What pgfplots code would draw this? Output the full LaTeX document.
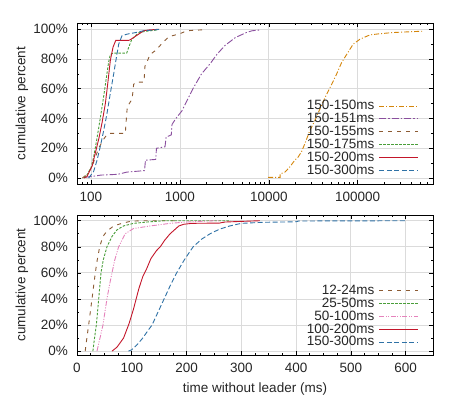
\documentclass[border=0pt]{standalone}
\usepackage{fontspec}
\setmainfont{Liberation Sans}
\usepackage{pgfplots}
\pgfplotsset{compat=1.18}
\definecolor{corange}{HTML}{D4850A}
\definecolor{cpurple}{HTML}{8A4F9E}
\definecolor{cbrown}{HTML}{8C5B33}
\definecolor{cgreen}{HTML}{4A9E3A}
\definecolor{cred}{HTML}{C3162A}
\definecolor{cblue}{HTML}{2F72A6}
\definecolor{cpink}{HTML}{E583BC}
\pgfplotsset{
  legend image code/.code={\draw[#1] (0bp,0bp) -- (39bp,0bp);},
}
\pgfplotsset{
  common/.style={
    scale only axis, width=356bp,
    axis line style={black, line width=0.8bp},
    tick align=inside,
    major tick length=4bp, minor tick length=2.2bp,
    every tick/.style={black, line width=0.6bp},
    grid=major, major grid style={black!14, line width=0.8bp},
    ytick={0,20,...,100}, yticklabels={0\%,20\%,40\%,60\%,80\%,100\%},
    minor y tick num=1,
    ylabel={cumulative percent},
    ylabel style={at={(axis description cs:-0.1545,0.5)}, anchor=center},
    label style={font=\fontsize{13.5bp}{15bp}\selectfont, text=black!85},
    tick label style={font=\fontsize{13.5bp}{15bp}\selectfont, text=black!85},
    yticklabel style={xshift=-4.5bp},
    xticklabel style={yshift=-3.6bp},
    legend style={draw=none, fill=none, inner sep=0pt, outer sep=0pt,
      anchor=south east, nodes={inner sep=1.5bp, text=black!85},
      column sep=3bp, row sep=-1.6bp, font=\fontsize{13.5bp}{13.5bp}\selectfont},
    legend cell align=right, legend plot pos=right,
    every axis plot/.append style={line width=0.9bp, no marks},
  }
}
\begin{document}
\fontsize{13.5bp}{15bp}\selectfont
\begin{tikzpicture}
\useasboundingbox (0,0) rectangle (467bp,399bp);
\begin{axis}[common, xmode=log, height=161bp,
  at={(77bp,215bp)}, anchor=south west,
  xmin=69.6, xmax=703000, ymin=-4, ymax=104.2,
  xtick={100,1000,10000,100000}, xticklabels={100,1000,10000,100000},
  minor xtick={70,80,90,200,300,400,500,600,700,800,900,2000,3000,4000,5000,6000,7000,8000,9000,20000,30000,40000,50000,60000,70000,80000,90000,200000,300000,400000,500000,600000,700000},
  legend style={at={(0.960,0.040)}},
]
\addplot[corange, dash pattern=on 5bp off 2bp on 1bp off 2bp] coordinates {
(9800,0.5) (13400,0.5) (13400,2.7) (15200,4) (17300,7.6) (19600,12) (21300,14) (23300,17.6) (25400,23) (29000,32) (33000,38.7) (37600,46.5) (42800,54) (51000,63) (58000,70) (66000,77.7) (75000,83) (89000,90) (106000,93.3) (137000,96.2) (178000,97) (252000,97.8) (540000,98.7)};
\addlegendentry{150-150ms}
\addplot[cpurple, dash pattern=on 7bp off 2bp on 1.5bp off 2bp] coordinates {
(85,0.5) (100,1) (130,2) (200,2.5) (254,4) (400,5) (410,12) (535,12.5) (545,20) (680,21) (700,27.5) (800,29) (815,36) (900,40) (1050,45) (1200,52) (1400,60) (1750,70) (2200,77) (2600,83) (3200,89) (4200,94.4) (5600,97.8) (6500,99) (8000,99.5)};
\addlegendentry{150-151ms}
\addplot[cbrown, dash pattern=on 4bp off 5bp] coordinates {
(80,0) (92,3) (103,8) (112,14) (122,20) (135,25) (150,29) (165,30) (243,30) (250,40) (256,48) (290,53) (302,63) (320,64.5) (395,64.5) (404,75) (440,80) (461,83) (540,86) (640,91) (750,95) (1000,97) (1200,99) (1900,99.7)};
\addlegendentry{150-155ms}
\addplot[cgreen, dash pattern=on 2.5bp off 1.5bp] coordinates {
(83,0) (90,2) (100,7) (107,14) (117,27) (127,40) (139,55) (151,70) (158,78) (165,83) (178,84) (252,84) (270,89) (287,93) (340,97.5) (400,98.5) (550,99.5)};
\addlegendentry{150-175ms}
\addplot[cred] coordinates {
(83,0) (90,1) (103,8) (112,17) (122,26) (133,37) (145,50) (154,63) (165,79) (177,88) (190,92.5) (265,92.5) (277,93) (302,94.5) (344,96.7) (391,99) (446,99.5) (578,100)};
\addlegendentry{150-200ms}
\addplot[cblue, dash pattern=on 5bp off 2.5bp] coordinates {
(94,0) (107,4.4) (117,12) (127,21) (139,32) (151,43) (165,57) (180,70) (193,81) (205,90) (223,95.6) (254,96.7) (320,97.8) (391,99) (507,99.5) (600,100)};
\addlegendentry{150-300ms}
\end{axis}
\begin{axis}[common, height=140bp,
  at={(77bp,44bp)}, anchor=south west,
  xmin=0, xmax=650, ymin=-3, ymax=104.4,
  xtick={0,100,...,600}, xticklabels={0,100,200,300,400,500,600},
  minor x tick num=3,
  xlabel={time without leader (ms)},
  xlabel style={at={(axis description cs:0.5,-0.243)}, anchor=center},
  legend style={at={(0.960,0.040)}},
]
\addplot[cbrown, dash pattern=on 4bp off 5bp] coordinates {
(15,0) (18,10) (21.3,20) (24.3,30) (27.4,40) (30.4,50) (33.4,60) (37,70) (41.4,80) (47.4,88) (54.7,92) (67,96) (82,98) (97,99.5) (115,100) (180,100)};
\addlegendentry{12-24ms}
\addplot[cgreen, dash pattern=on 2.5bp off 1.5bp] coordinates {
(29,0) (32,10) (35.3,20) (37.5,30) (39.6,40) (41.7,50) (43.8,60) (48,70) (54.7,80) (64,88) (73,93) (85,96) (103.5,98) (128,99) (158,100) (280,100)};
\addlegendentry{25-50ms}
\addplot[cpink, dash pattern=on 5bp off 1.5bp on 1bp off 1.5bp on 1bp off 1.5bp] coordinates {
(36.5,0) (42,10) (47.4,20) (51,30) (54.7,40) (59,50) (63.9,60) (69,70) (76,80) (88,90) (103,94) (134,96) (170,98) (200,99) (248,100) (261,100)};
\addlegendentry{50-100ms}
\addplot[cred] coordinates {
(64,0) (73,3) (85,10) (95,21) (103,32) (108,40) (113,48) (120,57) (127,63) (135,71) (145,77) (152,80) (160,85) (170,90) (178,93) (186,96) (195,97.3) (210,98) (260,98.2) (270,99) (300,99.5) (334,100)};
\addlegendentry{100-200ms}
\addplot[cblue, dash pattern=on 5bp off 2.5bp] coordinates {
(94,0) (100,1) (110,5) (120,10) (130,16) (137,20) (148,30) (159,40) (170,50) (182,60) (196,70) (212,80) (228,86) (243,90) (260,93.5) (279,96) (300,98) (340,98.8) (400,99.2) (405,99.8) (600,100)};
\addlegendentry{150-300ms}
\end{axis}
\end{tikzpicture}
\end{document}
